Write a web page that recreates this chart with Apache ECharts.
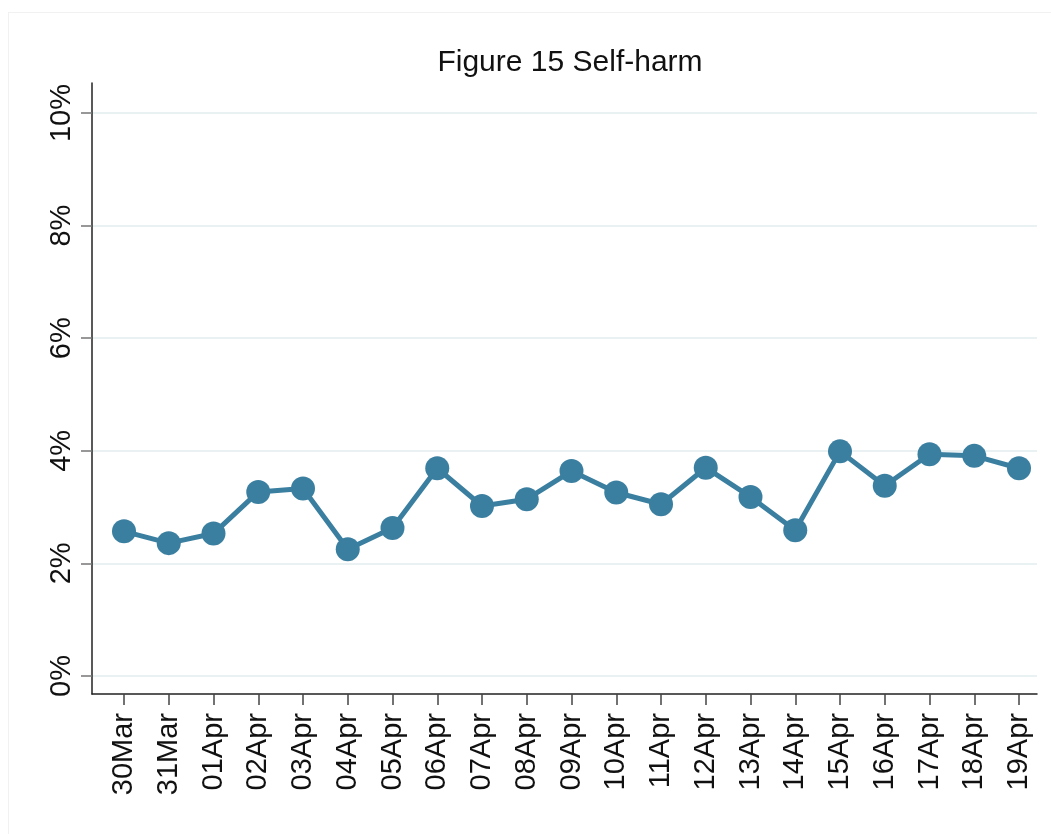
<!DOCTYPE html>
<html>
<head>
<meta charset="utf-8">
<title>Figure 15 Self-harm</title>
<script src="https://cdn.jsdelivr.net/npm/echarts@6/dist/echarts.min.js"></script>
<style>
  html, body { margin: 0; padding: 0; background: #ffffff; }
  #frame {
    position: absolute; left: 8px; top: 12px; width: 1100px; height: 900px;
    border-left: 1px solid #f1f1f1; border-top: 1px solid #f1f1f1;
  }
  #chart { position: absolute; left: 0; top: 0; width: 1051px; height: 834px; }
</style>
</head>
<body>
<div id="frame"></div>
<div id="chart"></div>
<script>
// Daily share of self-harm (percent)
const days = ['30Mar', '31Mar', '01Apr', '02Apr', '03Apr', '04Apr', '05Apr', '06Apr', '07Apr', '08Apr',
  '09Apr', '10Apr', '11Apr', '12Apr', '13Apr', '14Apr', '15Apr', '16Apr', '17Apr', '18Apr', '19Apr'];
const selfHarm = [2.57, 2.36, 2.53, 3.27, 3.33, 2.25, 2.63, 3.69, 3.02, 3.14,
  3.64, 3.26, 3.05, 3.70, 3.18, 2.59, 3.99, 3.38, 3.94, 3.91, 3.69];
const yMin = 0;
const yMax = 10;
const yStep = 2;

const FONT = '"Liberation Sans", Arial, Helvetica, sans-serif';
const LINE_COLOR = '#3b7fa0';
const TEXT_COLOR = '#111111';

// Plot region: the scale (0-10%) occupies a band inside the frame,
// with a little headroom above the top tick and below the zero line.
const frame = { left: 92, right: 14, top: 83, bottom: 140 };
const scaleBand = { top: 113, bottom: 158 };
const pxPerUnit = (834 - scaleBand.top - scaleBand.bottom) / (yMax - yMin);
const padBelow = (scaleBand.bottom - frame.bottom) / pxPerUnit;
const padAbove = (scaleBand.top - frame.top) / pxPerUnit;

const chart = echarts.init(document.getElementById('chart'), null, { renderer: 'canvas' });

chart.setOption({
  animation: false,
  backgroundColor: 'transparent',
  title: {
    text: 'Figure 15 Self-harm',
    left: 565,
    top: 43,
    textAlign: 'center',
    textStyle: { fontFamily: FONT, fontSize: 30, fontWeight: 'normal', color: TEXT_COLOR }
  },
  grid: [
    // outer plot frame (axis lines only)
    { left: frame.left, right: frame.right, top: frame.top, bottom: frame.bottom },
    // percentage scale with gridlines
    { left: frame.left, right: frame.right, top: scaleBand.top, bottom: scaleBand.bottom },
    // daily series, inset horizontally from the frame
    { left: 124, right: 32, top: frame.top, bottom: frame.bottom }
  ],
  xAxis: [
    {
      gridIndex: 0, type: 'value', min: 0, max: 1,
      axisLine: { show: true, onZero: false, lineStyle: { color: '#222222', width: 1.5 } },
      axisTick: { show: false }, axisLabel: { show: false }, splitLine: { show: false }
    },
    {
      gridIndex: 1, type: 'value', min: 0, max: 1, show: false
    },
    {
      gridIndex: 2, type: 'category', data: days, boundaryGap: false,
      axisLine: { show: false, onZero: false },
      axisTick: { show: true, length: 11, alignWithLabel: true, lineStyle: { color: '#444444', width: 1.5 } },
      axisLabel: {
        rotate: 90, margin: 19, interval: 0,
        fontFamily: FONT, fontSize: 29, color: TEXT_COLOR
      },
      splitLine: { show: false }
    }
  ],
  yAxis: [
    {
      gridIndex: 0, type: 'value', min: 0, max: 1,
      axisLine: { show: true, onZero: false, lineStyle: { color: '#222222', width: 1.5 } },
      axisTick: { show: false }, axisLabel: { show: false }, splitLine: { show: false }
    },
    {
      gridIndex: 1, type: 'value', min: yMin, max: yMax, interval: yStep,
      axisLine: { show: false },
      axisTick: { show: true, length: 11, lineStyle: { color: '#777777', width: 1.5 } },
      axisLabel: {
        rotate: 90, margin: 16,
        formatter: '{value}%',
        fontFamily: FONT, fontSize: 29, color: TEXT_COLOR
      },
      splitLine: { show: true, lineStyle: { color: '#e9f1f3', width: 2 } }
    },
    {
      gridIndex: 2, type: 'value', min: yMin - padBelow, max: yMax + padAbove, show: false
    }
  ],
  series: [
    {
      name: 'Self-harm',
      type: 'line',
      xAxisIndex: 2,
      yAxisIndex: 2,
      data: selfHarm,
      symbol: 'circle',
      symbolSize: 24,
      lineStyle: { color: LINE_COLOR, width: 5 },
      itemStyle: { color: LINE_COLOR },
      z: 5
    }
  ]
});
</script>
</body>
</html>
